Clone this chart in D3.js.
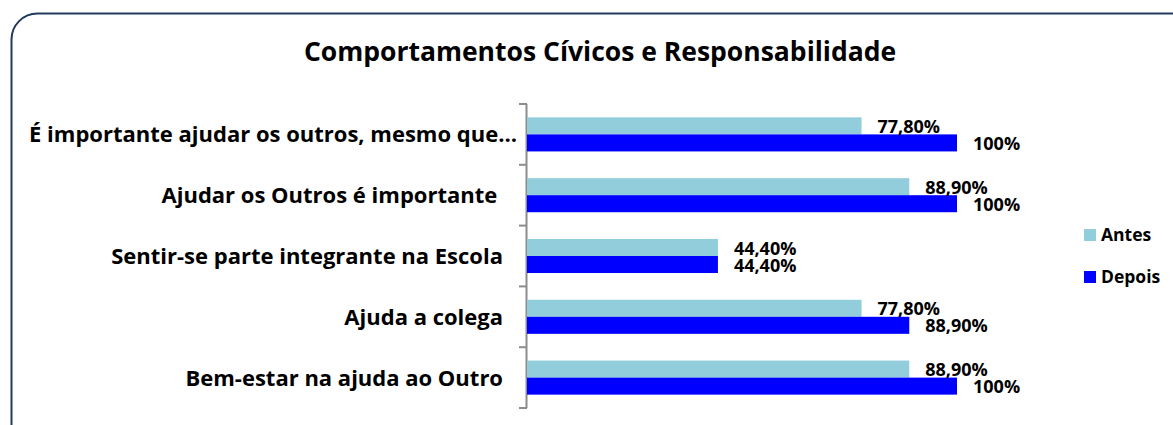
<!DOCTYPE html>
<html>
<head>
<meta charset="utf-8">
<script src="https://cdn.jsdelivr.net/npm/d3@7"></script>
<style>
  body { margin: 0; background: #fff; }
  text { font-family: "Open Sans", Lato, sans-serif; font-weight: 700; fill: #000; }
</style>
</head>
<body>
<div id="wrapper"></div>
<script>
// dados
const categories = [
    "É importante ajudar os outros, mesmo que…",
    "Ajudar os Outros é importante ",
    "Sentir-se parte integrante na Escola",
    "Ajuda a colega",
    "Bem-estar na ajuda ao Outro"
];
const seriesNames = ["Antes", "Depois"];
const antes = [77.8, 88.9, 44.4, 77.8, 88.9];
const depois = [100, 100, 44.4, 88.9, 100];
const valueLabelsAntes = ["77,80%", "88,90%", "44,40%", "77,80%", "88,90%"];
const valueLabelsDepois = ["100%", "100%", "44,40%", "88,90%", "100%"];
const colors = ["#92CDDC", "#0000FF"];
const title = "Comportamentos Cívicos e Responsabilidade";

function buildPlot() {
    const dimension = {
        width: 1173,
        height: 425,
        margin: { top: 104, left: 527, bottom: 17, right: 216 }
    };
    dimension.boundedWidth = dimension.width - dimension.margin.left - dimension.margin.right;
    dimension.boundedHeight = dimension.height - dimension.margin.top - dimension.margin.bottom;

    const svg = d3.select("#wrapper").append("svg")
        .attr("width", dimension.width)
        .attr("height", dimension.height);

    // moldura arredondada (continua para fora da imagem)
    svg.append("rect")
        .attr("x", 11.5).attr("y", 13.5)
        .attr("width", 1185).attr("height", 440)
        .attr("rx", 26).attr("ry", 26)
        .attr("fill", "none")
        .attr("stroke", "#1f3a5a")
        .attr("stroke-width", 2);

    svg.append("text")
        .attr("x", 600).attr("y", 61)
        .attr("text-anchor", "middle")
        .style("font-size", "26.5px")
        .text(title);

    const data = categories.map((c, i) => ({
        cat: c,
        values: [
            { key: "Antes", v: antes[i], label: valueLabelsAntes[i] },
            { key: "Depois", v: depois[i], label: valueLabelsDepois[i] }
        ]
    }));

    const bounded = svg.append("g")
        .attr("transform", `translate(${dimension.margin.left},${dimension.margin.top})`);

    const xScaler = d3.scaleLinear()
        .domain([0, 100])
        .range([0, 430]);

    const yScaler = d3.scaleBand()
        .domain(categories)
        .range([0, dimension.boundedHeight])
        .paddingInner(0.44)
        .paddingOuter(0.22);

    const ySub = d3.scaleBand()
        .domain(seriesNames)
        .range([0, yScaler.bandwidth()]);

    const color = d3.scaleOrdinal().domain(seriesNames).range(colors);

    // eixo vertical com marcas nos limites das categorias
    const step = yScaler.step();
    const boundaries = d3.range(categories.length + 1).map(i => i * step);
    const axis = bounded.append("g").attr("class", "y axis");
    axis.append("line")
        .attr("x1", -0.5).attr("x2", -0.5)
        .attr("y1", 0).attr("y2", dimension.boundedHeight)
        .attr("stroke", "#8c8c8c").attr("stroke-width", 2);
    axis.selectAll("line.tick")
        .data(boundaries)
        .join("line")
        .attr("class", "tick")
        .attr("x1", -8).attr("x2", 0)
        .attr("y1", d => d).attr("y2", d => d)
        .attr("stroke", "#8c8c8c").attr("stroke-width", 2);

    axis.selectAll("text.cat")
        .data(categories)
        .join("text")
        .attr("class", "cat")
        .attr("x", d => d.endsWith("…") ? -10 : -24)
        .attr("y", d => yScaler(d) + yScaler.bandwidth() / 2)
        .attr("dy", "0.36em")
        .attr("text-anchor", "end")
        .style("font-size", "22px")
        .style("white-space", "pre")
        .text(d => d);

    const groups = bounded.selectAll("g.cat")
        .data(data)
        .join("g")
        .attr("class", "cat")
        .attr("transform", d => `translate(0,${yScaler(d.cat)})`);

    groups.selectAll("rect")
        .data(d => d.values)
        .join("rect")
        .attr("x", 0)
        .attr("y", d => ySub(d.key))
        .attr("width", d => xScaler(d.v))
        .attr("height", ySub.bandwidth())
        .attr("fill", d => color(d.key));

    groups.selectAll("text.val")
        .data(d => d.values)
        .join("text")
        .attr("class", "val")
        .attr("x", d => xScaler(d.v) + 16)
        .attr("y", d => ySub(d.key) + ySub.bandwidth() - 1.5)
        .style("font-size", "18px")
        .text(d => d.label);

    // legenda
    const legend = svg.append("g")
        .attr("transform", "translate(1084,229)");
    const items = legend.selectAll("g")
        .data(seriesNames)
        .join("g")
        .attr("transform", (d, i) => `translate(0,${i * 42})`);
    items.append("rect")
        .attr("width", 12).attr("height", 12)
        .attr("fill", d => color(d));
    items.append("text")
        .attr("x", 17).attr("y", 12)
        .style("font-size", "17.5px")
        .text(d => d);
}

buildPlot();
</script>
</body>
</html>
